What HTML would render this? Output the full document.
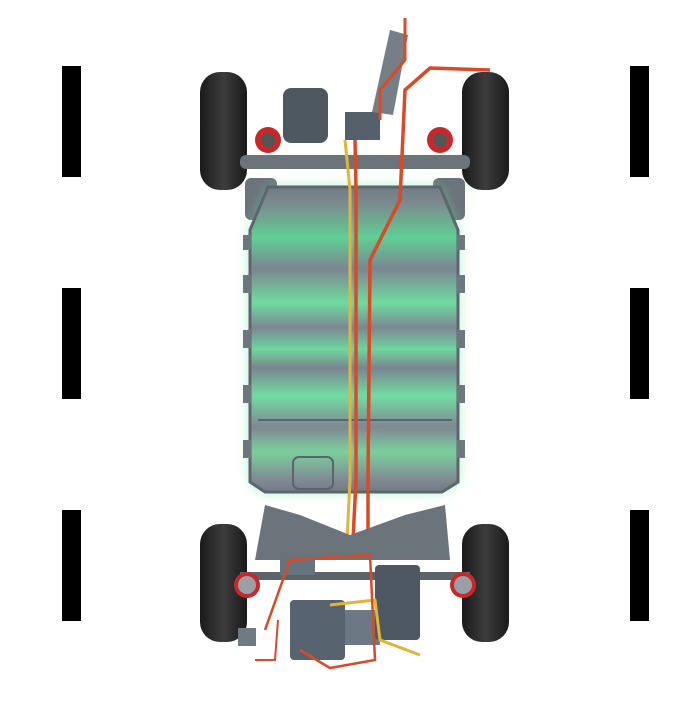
<!DOCTYPE html>
<html><head><style>html,body{margin:0;padding:0;background:#fff}</style></head>
<body>
<svg width="700" height="700" viewBox="0 0 700 700" xmlns="http://www.w3.org/2000/svg">
<defs>
<linearGradient id="bat" gradientUnits="userSpaceOnUse" x1="0" y1="185" x2="0" y2="495">
<stop offset="0" stop-color="#6f7a84"/>
<stop offset="0.06" stop-color="#7c8a8e"/>
<stop offset="0.17" stop-color="#5fcf95"/>
<stop offset="0.27" stop-color="#7b8590"/>
<stop offset="0.38" stop-color="#6fdba0"/>
<stop offset="0.46" stop-color="#7d8792"/>
<stop offset="0.53" stop-color="#6ed69e"/>
<stop offset="0.59" stop-color="#7a8590"/>
<stop offset="0.68" stop-color="#72dca2"/>
<stop offset="0.78" stop-color="#7e8893"/>
<stop offset="0.86" stop-color="#7ccf9e"/>
<stop offset="0.95" stop-color="#7f8a94"/>
<stop offset="1" stop-color="#6d7880"/>
</linearGradient>
<linearGradient id="tire" x1="0" y1="0" x2="1" y2="0">
<stop offset="0" stop-color="#1a1a1a"/><stop offset="0.5" stop-color="#3c3c3c"/><stop offset="1" stop-color="#1a1a1a"/>
</linearGradient>
<filter id="glow" x="-20%" y="-20%" width="140%" height="140%"><feGaussianBlur stdDeviation="6"/></filter>
</defs>
<rect width="700" height="700" fill="#fff"/>
<g fill="#000">
<rect x="62" y="66" width="19" height="111"/><rect x="62" y="288" width="19" height="111"/><rect x="62" y="510" width="19" height="111"/>
<rect x="630" y="66" width="19" height="111"/><rect x="630" y="288" width="19" height="111"/><rect x="630" y="510" width="19" height="111"/>
</g>
<g fill="url(#tire)">
<rect x="200" y="72" width="47" height="118" rx="20"/><rect x="462" y="72" width="47" height="118" rx="20"/>
<rect x="200" y="524" width="47" height="118" rx="20"/><rect x="462" y="524" width="47" height="118" rx="20"/>
</g>
<g fill="#6b737b">
<rect x="240" y="155" width="230" height="14" rx="6"/>
<rect x="283" y="88" width="45" height="55" rx="8" fill="#4e5860"/>
<rect x="345" y="112" width="35" height="28" fill="#55606a"/>
<path d="M372 112 L390 30 L408 35 L393 115Z" fill="#767e86"/>
<rect x="245" y="178" width="32" height="42" rx="6"/><rect x="433" y="178" width="32" height="42" rx="6"/>
</g>
<circle cx="268" cy="140" r="13" fill="#c8282a"/><circle cx="268" cy="140" r="7" fill="#555"/>
<circle cx="440" cy="140" r="13" fill="#c8282a"/><circle cx="440" cy="140" r="7" fill="#555"/>
<path d="M268 187 L440 187 L458 230 L458 482 L442 492 L265 492 L250 482 L250 230Z" fill="#60e0a0" opacity="0.6" filter="url(#glow)"/>
<path d="M268 187 L440 187 L458 230 L458 482 L442 492 L265 492 L250 482 L250 230Z" fill="url(#bat)" stroke="#5d666d" stroke-width="3"/>
<line x1="258" y1="420" x2="452" y2="420" stroke="#5a646a" stroke-width="2"/>
<rect x="293" y="457" width="40" height="32" rx="6" fill="none" stroke="#5a646a" stroke-width="2"/>
<g fill="#6e777e">
<rect x="243" y="235" width="8" height="15"/><rect x="243" y="275" width="8" height="18"/><rect x="243" y="330" width="8" height="18"/><rect x="243" y="385" width="8" height="18"/><rect x="243" y="440" width="8" height="18"/>
<rect x="457" y="235" width="8" height="15"/><rect x="457" y="275" width="8" height="18"/><rect x="457" y="330" width="8" height="18"/><rect x="457" y="385" width="8" height="18"/><rect x="457" y="440" width="8" height="18"/>
</g>
<path d="M345 140 L350 190 L350 480 L347 540" stroke="#e0b53a" stroke-width="3" fill="none"/>
<path d="M355 140 L356 190 L356 480 L353 540" stroke="#d94a26" stroke-width="3.5" fill="none"/>
<path d="M405 18 L405 60 L380 90 L380 120" stroke="#d94a26" stroke-width="3" fill="none"/>
<path d="M490 70 L430 68 L405 90 L400 200 L370 260 L368 480 L368 540" stroke="#d94a26" stroke-width="3.5" fill="none"/>
<g fill="#6b737b">
<path d="M265 505 L300 515 L350 535 L405 515 L445 505 L450 560 L255 560Z"/>
<rect x="240" y="572" width="230" height="8" fill="#5c646b"/>
<rect x="290" y="600" width="55" height="60" rx="4" fill="#57636e"/>
<rect x="345" y="610" width="35" height="35" fill="#6c7883"/>
<rect x="375" y="565" width="45" height="75" rx="4" fill="#4d5862"/>
<rect x="280" y="555" width="35" height="20" fill="#66727c"/>
<rect x="238" y="628" width="18" height="18" fill="#707a82"/>
</g>
<path d="M330 605 L375 600 L380 640 L420 655" stroke="#e0b53a" stroke-width="3" fill="none"/>
<path d="M265 630 L290 560 L370 555 L375 660 L330 668 L300 650" stroke="#d94a26" stroke-width="2.5" fill="none"/>
<path d="M255 660 L275 660 L278 620" stroke="#d94a26" stroke-width="2" fill="none"/>
<circle cx="247" cy="585" r="13" fill="#c8282a"/><circle cx="247" cy="585" r="9" fill="#9aa0a5"/>
<circle cx="463" cy="585" r="13" fill="#c8282a"/><circle cx="463" cy="585" r="9" fill="#9aa0a5"/>
</svg>
</body></html>
